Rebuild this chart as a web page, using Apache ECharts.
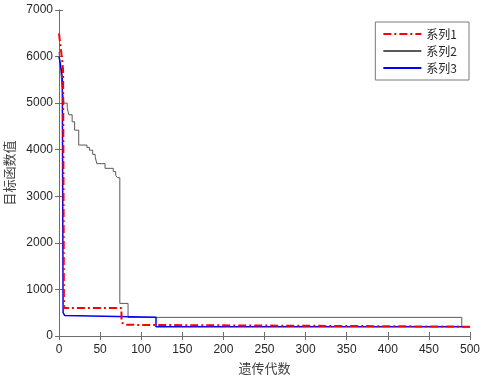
<!DOCTYPE html>
<html>
<head>
<meta charset="utf-8">
<script src="https://cdn.jsdelivr.net/npm/echarts@6/dist/echarts.min.js"></script>
<style>
  html, body { margin: 0; padding: 0; background: #fff; }
  #main { width: 486px; height: 380px; }
</style>
</head>
<body>
<div id="main"></div>
<script>
// generation where each value starts (lines are held as steps until the next one)
var gen1 = [0, 1, 2, 3, 4, 5, 6, 76, 77, 79, 81, 500];
var val1 = [6500, 6350, 6200, 6050, 5900, 5700, 600, 330, 280, 240, 200, 200];

var gen2 = [0, 2, 4, 6, 10, 12, 16, 19, 24, 34, 37, 41, 44, 46, 56, 66, 69, 71, 74, 84, 490, 500];
var val2 = [6100, 5700, 5300, 5000, 4900, 4750, 4600, 4420, 4100, 4050, 3990, 3900, 3850, 3700, 3600, 3530, 3450, 3400, 700, 400, 200, 200];

var gen3 = [0, 1, 2, 3, 4, 5, 6, 7, 8, 118, 500];
var val3 = [6000, 5900, 5800, 5700, 5550, 500, 470, 440, 400, 200, 200];

var seriesNames = ['系列1', '系列2', '系列3'];

function pairs(xs, ys) {
  return xs.map(function (x, i) { return [x, ys[i]]; });
}

var labelFont = { fontFamily: 'Liberation Sans, Arial', fontSize: 12, color: '#262626' };
var nameFont = { fontFamily: 'Noto Sans CJK SC', fontSize: 13, color: '#404040' };
var frameLine = { lineStyle: { color: '#6e6e6e', width: 1 } };
var plain = function (v) { return String(v); };

var myChart = echarts.init(document.getElementById('main'));
myChart.setOption({
  backgroundColor: '#fff',
  animation: false,
  grid: { left: 59, right: 16, top: 10, bottom: 44, containLabel: false, outerBoundsMode: 'none' },
  legend: {
    orient: 'vertical',
    right: 17,
    top: 22,
    data: seriesNames,
    itemWidth: 38,
    itemHeight: 10,
    itemGap: 5,
    padding: [6, 12, 6, 7],
    borderColor: '#7a7a7a',
    borderWidth: 1,
    backgroundColor: '#fff',
    itemStyle: { opacity: 0 },
    textStyle: { fontFamily: 'Noto Sans CJK SC', fontSize: 12, color: '#262626' }
  },
  xAxis: [
    {
      type: 'value', min: 0, max: 500, interval: 50,
      name: '遗传代数', nameLocation: 'middle', nameGap: 26, nameTextStyle: nameFont,
      axisLine: frameLine,
      axisTick: { inside: true, length: 4, lineStyle: { color: '#6e6e6e' } },
      axisLabel: Object.assign({ margin: 8, formatter: plain }, labelFont),
      splitLine: { show: false }
    },
    {
      type: 'value', min: 0, max: 500, interval: 50, position: 'top',
      axisLine: frameLine,
      axisTick: { inside: true, length: 4, lineStyle: { color: '#6e6e6e' } },
      axisLabel: { show: false },
      splitLine: { show: false }
    }
  ],
  yAxis: [
    {
      type: 'value', min: 0, max: 7000, interval: 1000,
      name: '目标函数值', nameLocation: 'middle', nameGap: 37, nameTextStyle: nameFont,
      axisLine: { show: true, lineStyle: { color: '#6e6e6e', width: 1 } },
      axisTick: { show: true, inside: true, length: 4, lineStyle: { color: '#6e6e6e' } },
      axisLabel: Object.assign({ margin: 6, formatter: plain }, labelFont),
      splitLine: { show: false }
    },
    {
      type: 'value', min: 0, max: 7000, interval: 1000, position: 'right',
      axisLine: { show: true, lineStyle: { color: '#6e6e6e', width: 1 } },
      axisTick: { show: true, inside: true, length: 4, lineStyle: { color: '#6e6e6e' } },
      axisLabel: { show: false },
      splitLine: { show: false }
    }
  ],
  series: [
    {
      name: seriesNames[0], type: 'line', step: 'end', symbol: 'none', z: 5,
      data: pairs(gen1, val1),
      color: '#ff0000',
      lineStyle: { color: '#ff0000', width: 2, type: [8, 3, 2, 3] }
    },
    {
      name: seriesNames[1], type: 'line', step: 'end', symbol: 'none', z: 3,
      data: pairs(gen2, val2),
      color: '#5a5a5a',
      lineStyle: { color: '#5a5a5a', width: 1 }
    },
    {
      name: seriesNames[2], type: 'line', step: 'end', symbol: 'none', z: 4,
      data: pairs(gen3, val3),
      color: '#0000ff',
      lineStyle: { color: '#0000ff', width: 1.5 }
    }
  ]
});
</script>
</body>
</html>
